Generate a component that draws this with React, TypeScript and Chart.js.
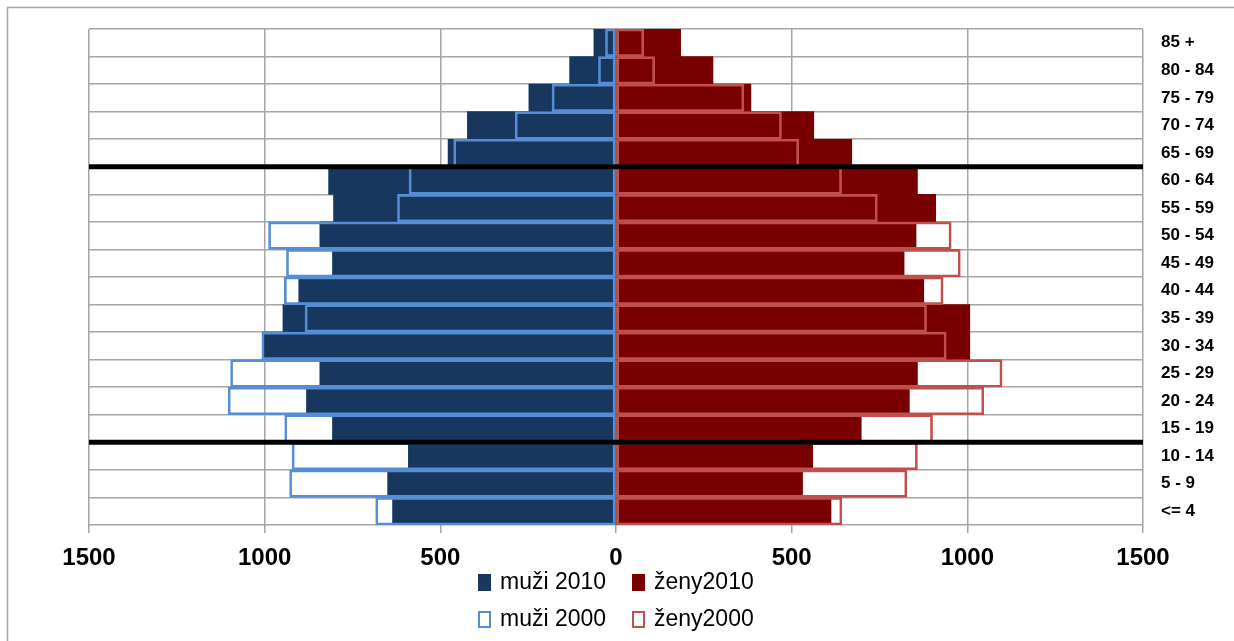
import React, { useEffect, useRef } from "react";
import { Chart, registerables } from "chart.js";

Chart.register(...registerables);

// Age groups, top to bottom
const ageGroups = [
  "85 +", "80 - 84", "75 - 79", "70 - 74", "65 - 69", "60 - 64", "55 - 59", "50 - 54", "45 - 49",
  "40 - 44", "35 - 39", "30 - 34", "25 - 29", "20 - 24", "15 - 19", "10 - 14", "5 - 9", "<= 4",
];

const muzi2010 = [63, 132, 248, 423, 478, 818, 804, 843, 807, 903, 948, 1005, 843, 881, 807, 591, 650, 636];
const muzi2000 = [30, 50, 182, 287, 462, 589, 622, 989, 938, 944, 885, 1008, 1097, 1104, 943, 922, 929, 684];
const zeny2010 = [184, 276, 384, 563, 671, 858, 910, 854, 820, 876, 1007, 1007, 858, 835, 698, 560, 531, 612];
const zeny2000 = [79, 110, 364, 471, 520, 642, 744, 954, 980, 931, 884, 940, 1099, 1047, 901, 858, 828, 643];

const xTicks = [-1500, -1000, -500, 0, 500, 1000, 1500];
// boundaries (between category indices) where thick separator lines are drawn
const separatorAfter = [4, 14];

const FONT = "'Liberation Sans', Arial, sans-serif";

export default function App() {
  const ref = useRef<HTMLCanvasElement>(null);

  useEffect(() => {
    if (!ref.current) return;

    const framePlugin = {
      id: "frame",
      beforeDraw(chart: any) {
        const ctx = chart.ctx;
        ctx.save();
        ctx.fillStyle = "#ffffff";
        ctx.fillRect(0, 0, chart.width, chart.height);
        ctx.strokeStyle = "#a6a6a6";
        ctx.lineWidth = 1.5;
        ctx.strokeRect(7.5, 7.5, chart.width + 20, chart.height + 20);
        ctx.restore();
      },
    };

    const separatorPlugin = {
      id: "separators",
      afterDatasetsDraw(chart: any) {
        const ctx = chart.ctx;
        const ys = chart.scales.y;
        const area = chart.chartArea;
        ctx.save();
        ctx.strokeStyle = "#000000";
        ctx.lineWidth = 5;
        separatorAfter.forEach((i) => {
          const y = (ys.getPixelForValue(i) + ys.getPixelForValue(i + 1)) / 2;
          ctx.beginPath();
          ctx.moveTo(area.left, y);
          ctx.lineTo(area.right, y);
          ctx.stroke();
        });
        ctx.restore();
      },
    };

    const legendPlugin = {
      id: "customLegend",
      afterDraw(chart: any) {
        const ctx = chart.ctx;
        const area = chart.chartArea;
        const cx = (area.left + area.right) / 2;
        const ds = chart.data.datasets;
        const cols = [cx - 138, cx + 16];
        const rows = [area.bottom + 57, area.bottom + 94];
        const items = [
          { d: ds[0], x: cols[0], y: rows[0] },
          { d: ds[1], x: cols[1], y: rows[0] },
          { d: ds[2], x: cols[0], y: rows[1] },
          { d: ds[3], x: cols[1], y: rows[1] },
        ];
        ctx.save();
        ctx.font = `23px ${FONT}`;
        ctx.textBaseline = "middle";
        ctx.textAlign = "left";
        items.forEach(({ d, x, y }) => {
          const filled = d.backgroundColor !== "rgba(0,0,0,0)";
          if (filled) {
            ctx.fillStyle = d.backgroundColor;
            ctx.fillRect(x, y - 8, 13, 17);
          } else {
            ctx.strokeStyle = d.borderColor;
            ctx.lineWidth = 2;
            ctx.strokeRect(x + 1, y - 7, 11, 15);
          }
          ctx.fillStyle = "#000000";
          ctx.fillText(d.label, x + 22, y + 1);
        });
        ctx.restore();
      },
    };

    const chart = new Chart(ref.current, {
      type: "bar",
      data: {
        labels: ageGroups,
        datasets: [
          {
            label: "muži 2010",
            data: muzi2010.map((v) => -v),
            backgroundColor: "#17375E",
            borderWidth: 0,
            grouped: false,
            order: 2,
            barPercentage: 1,
            categoryPercentage: 1,
          },
          {
            label: "ženy2010",
            data: zeny2010,
            backgroundColor: "#780000",
            borderWidth: 0,
            grouped: false,
            order: 2,
            barPercentage: 1,
            categoryPercentage: 1,
          },
          {
            label: "muži 2000",
            data: muzi2000.map((v) => -v),
            backgroundColor: "rgba(0,0,0,0)",
            borderColor: "#558ED5",
            borderWidth: 2,
            borderSkipped: false,
            grouped: false,
            order: 1,
            barPercentage: 1,
            categoryPercentage: 1,
          },
          {
            label: "ženy2000",
            data: zeny2000,
            backgroundColor: "rgba(0,0,0,0)",
            borderColor: "#C0504D",
            borderWidth: 2,
            borderSkipped: false,
            grouped: false,
            order: 1,
            barPercentage: 1,
            categoryPercentage: 1,
          },
        ],
      } as any,
      options: {
        indexAxis: "y",
        responsive: false,
        animation: false,
        layout: { padding: { left: 89, top: 29, right: 0, bottom: 66 } },
        plugins: {
          legend: { display: false },
          tooltip: { enabled: false },
        },
        scales: {
          x: {
            type: "linear",
            min: -1500,
            max: 1500,
            afterBuildTicks: (s: any) => {
              s.ticks = xTicks.map((v) => ({ value: v }));
            },
            afterFit: (s: any) => {
              s.height = 50;
            },
            ticks: {
              callback: (v: any) => String(Math.abs(Number(v))),
              font: { family: FONT, size: 24, weight: "bold" },
              color: "#000000",
              padding: 11,
              maxRotation: 0,
              autoSkip: false,
            },
            grid: { color: "#a6a6a6", lineWidth: 1.5, tickLength: 8, drawTicks: true },
            border: { display: false },
          },
          y: {
            type: "category",
            position: "right",
            offset: true,
            afterFit: (s: any) => {
              s.width = 91;
            },
            ticks: {
              font: { family: FONT, size: 17, weight: "bold" },
              color: "#000000",
              padding: 18,
              autoSkip: false,
            },
            grid: { color: "#a6a6a6", lineWidth: 1.5, drawTicks: false, offset: true },
            border: { display: false },
          },
        },
      } as any,
      plugins: [framePlugin, separatorPlugin, legendPlugin],
    });

    return () => chart.destroy();
  }, []);

  return (
    <div style={{ position: "fixed", left: 0, top: 0, width: 1234, height: 641, background: "#fff" }}>
      <canvas ref={ref} width={1234} height={641} style={{ display: "block", width: 1234, height: 641 }} />
    </div>
  );
}
